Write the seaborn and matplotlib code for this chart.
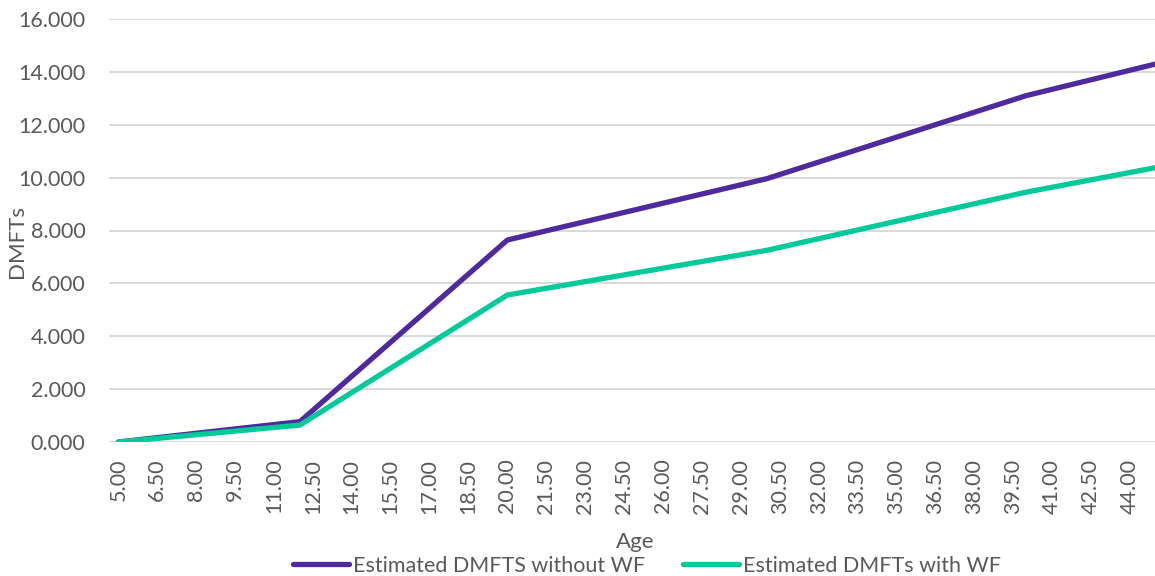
import matplotlib
matplotlib.use("Agg")
import matplotlib.pyplot as plt
import seaborn as sns
import pandas as pd
from matplotlib.ticker import FixedLocator, FormatStrFormatter

# Estimated DMFTs by age (knots of the piecewise model)
ages = [5.0, 12.0, 20.0, 30.0, 40.0, 45.0]
dmfts_without_wf = [0.0, 0.77, 7.64, 9.96, 13.10, 14.30]
dmfts_with_wf = [0.0, 0.64, 5.56, 7.25, 9.45, 10.38]
series_names = ["Estimated DMFTS without WF", "Estimated DMFTs with WF"]
x_tick_values = [5.0 + 1.5 * i for i in range(27)]
y_tick_values = [0, 2, 4, 6, 8, 10, 12, 14, 16]

df = pd.concat([
    pd.DataFrame({"Age": ages, "DMFTs": dmfts_without_wf, "Series": series_names[0]}),
    pd.DataFrame({"Age": ages, "DMFTs": dmfts_with_wf, "Series": series_names[1]}),
])

sns.set_theme(style="white")
plt.rcParams["font.family"] = ["Lato", "DejaVu Sans"]

text_color = "#595959"
palette = {series_names[0]: "#4E2A9E", series_names[1]: "#00C99A"}
fs = 15.5

fig = plt.figure(figsize=(11.55, 5.76), dpi=100)
ax = fig.add_axes([109 / 1155, 1 - 442 / 576, 1 - 109 / 1155, (442 - 19) / 576])

sns.lineplot(data=df, x="Age", y="DMFTs", hue="Series", palette=palette,
             linewidth=3.8, ax=ax, legend=True)
for line in ax.lines:
    line.set_solid_capstyle("round")
    line.set_solid_joinstyle("round")

ax.set_xlim(4.64, 44.97)
ax.set_ylim(0, 16)
ax.xaxis.set_major_locator(FixedLocator(x_tick_values))
ax.yaxis.set_major_locator(FixedLocator(y_tick_values))
ax.xaxis.set_major_formatter(FormatStrFormatter("%.2f"))
ax.yaxis.set_major_formatter(FormatStrFormatter("%.3f"))
ax.tick_params(axis="x", labelrotation=90, labelsize=fs, colors=text_color, length=0, pad=12)
ax.tick_params(axis="y", labelsize=fs, colors=text_color, length=0, pad=17)

ax.grid(axis="y", color="#D9D9D9", linewidth=1.4)
ax.grid(axis="x", visible=False)
ax.set_axisbelow(True)
for spine in ax.spines.values():
    spine.set_visible(False)

ax.set_xlabel("Age", fontsize=16, color=text_color)
ax.set_ylabel("DMFTs", fontsize=16, color=text_color)
ax.xaxis.set_label_coords((635 - 109) / (1155 - 109), -(532 - 442) / 423)
ax.yaxis.set_label_coords(-(109 - 27) / (1155 - 109), (442 - 241) / 423)

handles, labels = ax.get_legend_handles_labels()
ax.legend_.remove()
leg = fig.legend(handles, labels, loc="center", bbox_to_anchor=(647 / 1155, 1 - 566 / 576),
                 ncol=2, frameon=False, fontsize=fs, handlelength=2.6,
                 handletextpad=0.15, columnspacing=1.8, borderpad=0)
for t in leg.get_texts():
    t.set_color(text_color)

fig.savefig("out.png", dpi=100)
